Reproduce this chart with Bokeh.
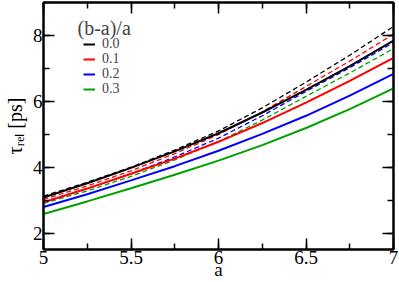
from bokeh.plotting import figure
from bokeh.models import (Range1d, LinearAxis, SingleIntervalTicker, CustomJSTickFormatter,
                          Legend, LegendItem, Label)
from bokeh.embed import file_html
from bokeh.resources import INLINE

a_vals = [5.0, 5.25, 5.5, 5.75, 6.0, 6.25, 6.5, 6.75, 7.0]
ratios = ["0.0", "0.1", "0.2", "0.3"]
colors = ["#000000", "#ff0000", "#0000ff", "#00a000"]
# solid curves
tau_solid = {
    "0.0": [3.08, 3.51, 3.98, 4.48, 5.03, 5.66, 6.35, 7.07, 7.84],
    "0.1": [2.93, 3.35, 3.80, 4.26, 4.77, 5.34, 5.96, 6.62, 7.32],
    "0.2": [2.79, 3.18, 3.60, 4.03, 4.50, 5.01, 5.56, 6.17, 6.83],
    "0.3": [2.58, 2.96, 3.36, 3.77, 4.20, 4.67, 5.19, 5.76, 6.39],
}
# dashed curves
tau_dashed = {
    "0.0": [3.12, 3.54, 4.00, 4.52, 5.10, 5.80, 6.58, 7.40, 8.27],
    "0.1": [3.02, 3.43, 3.89, 4.41, 4.99, 5.68, 6.45, 7.22, 8.04],
    "0.2": [2.95, 3.35, 3.80, 4.31, 4.88, 5.56, 6.30, 7.02, 7.78],
    "0.3": [2.90, 3.28, 3.72, 4.22, 4.78, 5.43, 6.15, 6.86, 7.60],
}
legend_title = "(b-a)/a"
x_label = "a"
y_label = "τᵣₑₗ [ps]"
FONT = "Liberation Serif"

p = figure(width=399, height=282, output_backend="svg", toolbar_location=None,
           x_range=Range1d(5, 7), y_range=Range1d(1.5, 9),
           min_border_left=39, min_border_right=6, min_border_top=2, min_border_bottom=32,
           x_axis_location=None, y_axis_location=None)
p.grid.visible = False
p.outline_line_color = "black"
p.outline_line_width = 2
p.background_fill_color = "white"
p.border_fill_color = "white"

fmt = CustomJSTickFormatter(code="return tick.toString();")
blank = CustomJSTickFormatter(code="return '';")

def style_axis(ax, labels):
    ax.major_tick_in = 11
    ax.major_tick_out = 0
    ax.minor_tick_in = 6
    ax.minor_tick_out = 0
    ax.axis_line_width = 2
    ax.major_tick_line_width = 1.5
    ax.minor_tick_line_width = 1.5
    ax.major_label_text_font = FONT
    ax.major_label_text_color = "black"
    ax.axis_label_text_font = FONT
    ax.axis_label_text_font_style = "normal"
    ax.axis_label_text_color = "black"
    if labels:
        ax.major_label_text_font_size = "19px"
        ax.major_label_standoff = 1
        ax.formatter = fmt
    else:
        ax.major_label_text_font_size = "1px"
        ax.major_label_standoff = 0
        ax.formatter = blank

for loc in ["below", "above"]:
    ax = LinearAxis(ticker=SingleIntervalTicker(interval=0.5, num_minor_ticks=2))
    style_axis(ax, loc == "below")
    if loc == "below":
        ax.axis_label = x_label
        ax.axis_label_text_font_size = "19px"
        ax.axis_label_standoff = -8
    p.add_layout(ax, loc)
for loc in ["left", "right"]:
    ax = LinearAxis(ticker=SingleIntervalTicker(interval=2, num_minor_ticks=2))
    style_axis(ax, loc == "left")
    if loc == "left":
        ax.axis_label = y_label
        ax.axis_label_text_font_size = "20px"
        ax.axis_label_standoff = 4
    p.add_layout(ax, loc)

for r, c in zip(ratios, colors):
    p.line(a_vals, tau_dashed[r], line_color=c, line_width=1.3, line_dash="5 3")

row_bottoms = [197, 182, 167, 152]
for r, c, yb in zip(ratios, colors, row_bottoms):
    rend = p.line(a_vals, tau_solid[r], line_color=c, line_width=2)
    lg = Legend(items=[LegendItem(label=r, renderers=[rend])], location=(40, yb),
                padding=0, margin=0, spacing=0,
                glyph_width=12, glyph_height=14, label_height=14, label_standoff=7,
                label_text_font=FONT, label_text_font_size="14px",
                background_fill_alpha=0, border_line_alpha=0)
    p.add_layout(lg, "center")

p.add_layout(Label(x=34, y=222, x_units="screen", y_units="screen", text=legend_title,
                   text_font=FONT, text_font_size="20px", text_baseline="middle"))

open("out.html", "w").write(file_html(p, INLINE))
